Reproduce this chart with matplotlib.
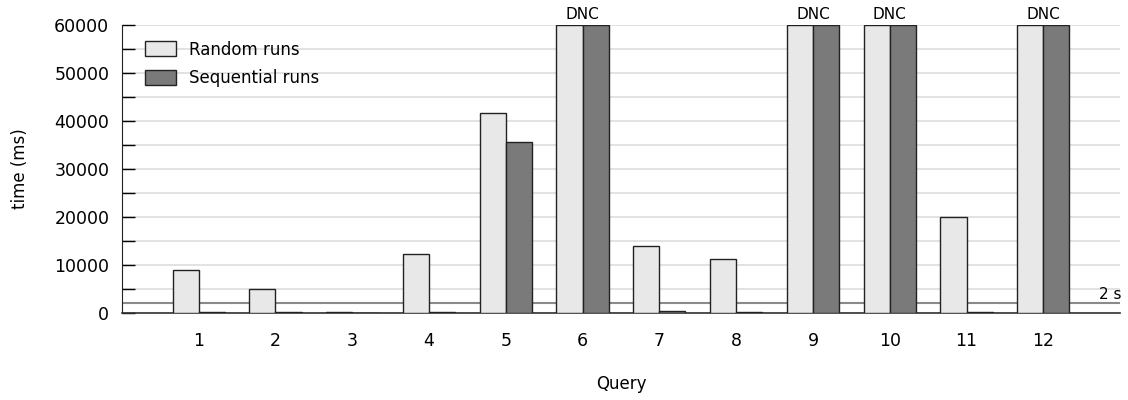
import matplotlib
matplotlib.use("Agg")
import matplotlib.pyplot as plt
import numpy as np
from matplotlib.ticker import MultipleLocator

queries = ["1", "2", "3", "4", "5", "6", "7", "8", "9", "10", "11", "12"]
random_runs = [8900, 4900, 250, 12300, 41700, 60000, 14000, 11300, 60000, 60000, 20000, 60000]
sequential_runs = [150, 120, 60, 150, 35700, 60000, 400, 200, 60000, 60000, 200, 60000]
dnc = [False, False, False, False, False, True, False, False, True, True, False, True]
threshold_ms = 2000

plt.rcParams["font.family"] = ["DejaVu Sans"]

fig = plt.figure(figsize=(11.28, 4.0), dpi=100)
ax = fig.add_axes([0.108, 0.2175, 0.885, 0.72])

x = np.arange(1, len(queries) + 1)
w = 0.34
edge = "#222222"
ax.bar(x - w / 2, random_runs, width=w, color="#e8e8e8", edgecolor=edge,
       linewidth=1.0, label="Random runs", zorder=3)
ax.bar(x + w / 2, sequential_runs, width=w, color="#7a7a7a", edgecolor=edge,
       linewidth=1.0, label="Sequential runs", zorder=3)

for xi, flag in zip(x, dnc):
    if flag:
        ax.text(xi, 60600, "DNC", ha="center", va="bottom", fontsize=11)

ax.axhline(threshold_ms, color="#8a8a8a", linewidth=1.5, zorder=2)
ax.text(13.02, threshold_ms + 200, "2 s", ha="right", va="bottom", fontsize=11)

ax.set_xlim(0, 13)
ax.set_ylim(0, 60000)
ax.set_xticks(x)
ax.set_xticklabels(queries)
ax.yaxis.set_major_locator(MultipleLocator(10000))
ax.yaxis.set_minor_locator(MultipleLocator(5000))
ax.grid(axis="y", which="both", color="#dddddd", linewidth=1.2, zorder=0)
ax.tick_params(axis="y", which="both", direction="in", length=9, width=1,
               labelsize=12.5, pad=9)
ax.tick_params(axis="x", length=0, labelsize=12.5, pad=14)

for s in ["top", "right"]:
    ax.spines[s].set_visible(False)
ax.spines["left"].set_color("#222222")
ax.spines["bottom"].set_color("#333333")
ax.spines["bottom"].set_linewidth(1.2)

ax.set_ylabel("time (ms)", fontsize=12, labelpad=18)
ax.set_xlabel("Query", fontsize=12, labelpad=18)

leg = ax.legend(loc="upper left", bbox_to_anchor=(0.008, 0.998), frameon=False,
                fontsize=12, handlelength=1.9, handleheight=1.0,
                labelspacing=0.65, handletextpad=0.75)

fig.savefig("out.png", dpi=100)
